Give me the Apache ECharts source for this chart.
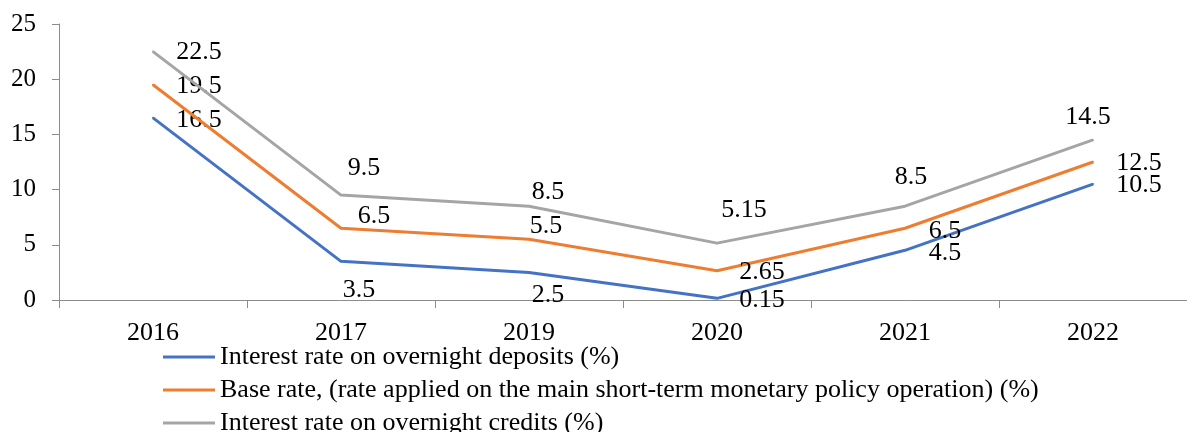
<!DOCTYPE html>
<html>
<head>
<meta charset="utf-8">
<script src="https://cdn.jsdelivr.net/npm/echarts@6/dist/echarts.min.js"></script>
<style>
  html, body { margin: 0; padding: 0; background: #fff; }
  #chart { width: 1187px; height: 432px; }
</style>
</head>
<body>
<div id="chart"></div>
<script>
// Policy interest rates by year (%)
const years = ['2016', '2017', '2019', '2020', '2021', '2022'];
const overnightDeposits = [16.5, 3.5, 2.5, 0.15, 4.5, 10.5];
const baseRate = [19.5, 6.5, 5.5, 2.65, 6.5, 12.5];
const overnightCredits = [22.5, 9.5, 8.5, 5.15, 8.5, 14.5];
const yTicks = [0, 5, 10, 15, 20, 25];

const seriesNames = [
  'Interest rate on overnight deposits (%)',
  'Base rate, (rate applied on the main short-term monetary policy operation) (%)',
  'Interest rate on overnight credits (%)'
];
const seriesColors = ['#4472C4', '#ED7D31', '#A5A5A5'];

// Label placement (pixel shift from each point) per series
const labelShift = [
  [[46, 2], [18, 29], [19, 23], [45, 2], [40, 3], [46, 1]],
  [[46, 1], [33, -12], [17, -13], [45, 1], [40, 3], [46, 1]],
  [[46, 1], [23, -27], [19, -14], [27, -33], [6, -29], [-5, -23]]
];

const FONT = 'Liberation Serif';
const axisColor = '#8c8c8c';

function buildSeries(idx, values) {
  return {
    name: seriesNames[idx],
    type: 'line',
    data: values.map((v, i) => ({
      value: v,
      label: { offset: labelShift[idx][i] }
    })),
    symbol: 'circle',
    symbolSize: 2,
    showSymbol: true,
    lineStyle: { width: 3, color: seriesColors[idx], join: 'round' },
    itemStyle: { color: seriesColors[idx] },
    label: {
      show: true,
      position: 'inside',
      color: '#000',
      fontFamily: FONT,
      fontSize: 26,
      align: 'center',
      verticalAlign: 'middle',
      formatter: p => String(p.value)
    },
    emphasis: { disabled: true },
    z: 2 + idx
  };
}

const chart = echarts.init(document.getElementById('chart'), null, { renderer: 'canvas' });
chart.setOption({
  animation: false,
  backgroundColor: '#fff',
  grid: { left: 59, top: 24, width: 1134, height: 276, containLabel: false },
  legend: {
    orient: 'vertical',
    left: 163,
    top: 344,
    height: 120,
    padding: 0,
    icon: 'rect',
    itemWidth: 52,
    itemHeight: 3,
    itemGap: 7,
    textStyle: { fontFamily: FONT, fontSize: 26, color: '#000', lineHeight: 24 },
    data: seriesNames.map((n, i) => ({ name: n, itemStyle: { color: seriesColors[i] } }))
  },
  xAxis: {
    type: 'category',
    data: years,
    boundaryGap: true,
    axisLine: { show: true, lineStyle: { color: axisColor, width: 1 } },
    axisTick: { show: true, length: 8, lineStyle: { color: axisColor } },
    axisLabel: { fontFamily: FONT, fontSize: 26, color: '#000', margin: 20 },
    splitLine: { show: false }
  },
  yAxis: {
    type: 'value',
    min: yTicks[0],
    max: yTicks[yTicks.length - 1],
    interval: yTicks[1] - yTicks[0],
    axisLine: { show: true, lineStyle: { color: axisColor, width: 1 } },
    axisTick: { show: true, length: 7, lineStyle: { color: axisColor } },
    axisLabel: { fontFamily: FONT, fontSize: 25, color: '#000', margin: 23 },
    splitLine: { show: false }
  },
  series: [
    buildSeries(0, overnightDeposits),
    buildSeries(1, baseRate),
    buildSeries(2, overnightCredits)
  ]
});
</script>
</body>
</html>
